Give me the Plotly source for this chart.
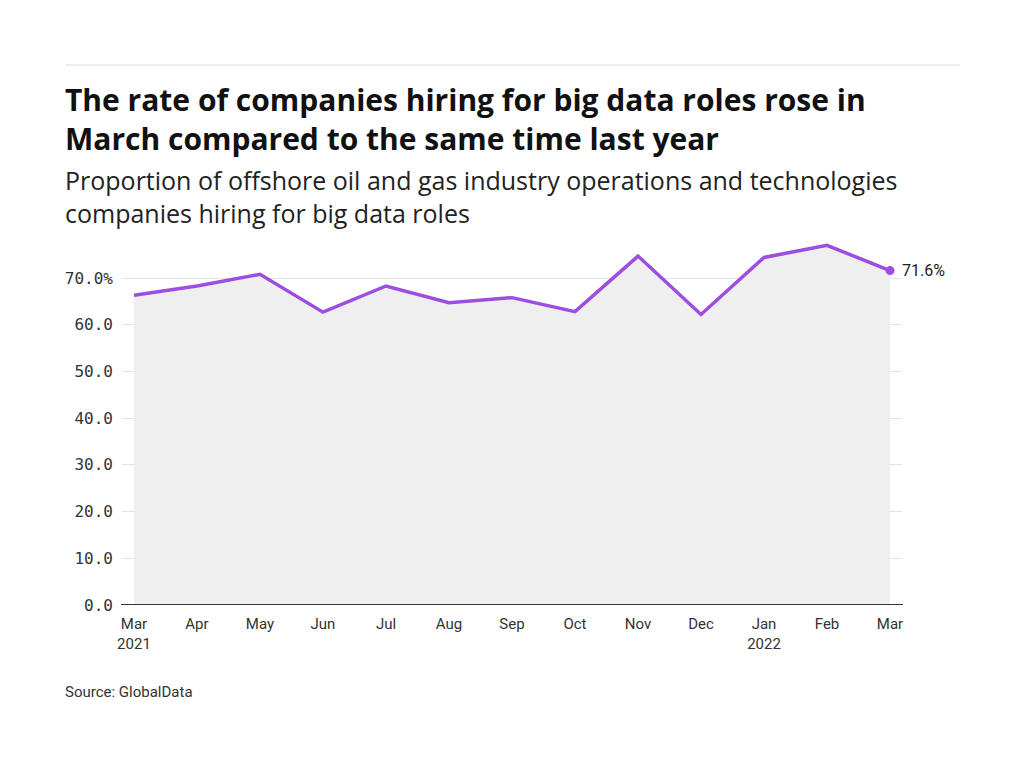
import plotly.graph_objects as go

months = ["Mar<br>2021", "Apr", "May", "Jun", "Jul", "Aug", "Sep", "Oct", "Nov", "Dec", "Jan<br>2022", "Feb", "Mar"]
values = [66.3, 68.3, 70.8, 62.7, 68.3, 64.7, 65.8, 62.8, 74.7, 62.2, 74.4, 77.0, 71.6]
ytick_vals = [0, 10, 20, 30, 40, 50, 60, 70]
ytick_text = ["0.0", "10.0", "20.0", "30.0", "40.0", "50.0", "60.0", "70.0%"]

OFF = 8  # page body margin
W, H = 1024 - OFF, 768 - OFF
L, R, T, B = 122 - OFF, 902 - OFF, 236 - OFF, 605 - OFF

def px(x):
    return (x - OFF - L) / (R - L)

def py(y):
    return (B - (y - OFF)) / (B - T)

xs = list(range(len(months)))
PURPLE = "#9d4ee0"

fig = go.Figure()
fig.add_trace(go.Scatter(
    x=xs, y=values, mode="lines", fill="tozeroy", fillcolor="#efefef",
    line=dict(color=PURPLE, width=3.5), hoverinfo="skip", showlegend=False))
fig.add_trace(go.Scatter(
    x=[xs[-1]], y=[values[-1]], mode="markers",
    marker=dict(color=PURPLE, size=9),
    hoverinfo="skip", showlegend=False, cliponaxis=False))

fig.update_layout(
    width=W, height=H,
    margin=dict(l=L, r=W - R, t=T, b=H - B, autoexpand=False),
    paper_bgcolor="white", plot_bgcolor="white",
    xaxis=dict(range=[-0.19, 12.19], tickvals=xs, ticktext=months,
               showgrid=False, zeroline=False, showline=False, ticks="",
               ticklabelstandoff=8,
               tickfont=dict(family="Roboto", size=15, color="#333")),
    yaxis=dict(range=[0, 79], tickvals=ytick_vals, ticktext=ytick_text,
               showgrid=True, gridcolor="#e2e2e2", gridwidth=1,
               zeroline=False, showline=False, ticks="", ticklabelstandoff=8,
               tickfont=dict(family="DejaVu Sans Mono", size=16, color="#333")),
    shapes=[
        dict(type="line", xref="paper", yref="paper", x0=px(65), x1=px(960), y0=py(65), y1=py(65),
             line=dict(color="#dddddd", width=1)),
        dict(type="line", xref="paper", yref="y", x0=px(121), x1=px(903), y0=0, y1=0,
             line=dict(color="#333333", width=2)),
    ],
    annotations=[
        dict(text=f"{values[-1]:.1f}%", x=xs[-1], y=values[-1], xref="x", yref="y",
             xanchor="left", yanchor="middle", xshift=10, showarrow=False,
             font=dict(family="Roboto", size=16, color="#222")),
        dict(text="The rate of companies hiring for big data roles rose in<br>March compared to the same time last year",
             xref="paper", yref="paper", x=px(63), y=py(77), xanchor="left", yanchor="top",
             align="left", showarrow=False,
             font=dict(family="Open Sans", size=30, color="#111", weight=700)),
        dict(text="Proportion of offshore oil and gas industry operations and technologies<br>companies hiring for big data roles",
             xref="paper", yref="paper", x=px(63), y=py(161), xanchor="left", yanchor="top",
             align="left", showarrow=False,
             font=dict(family="Open Sans", size=25, color="#222")),
        dict(text="Source: GlobalData",
             xref="paper", yref="paper", x=px(63), y=py(692), xanchor="left", yanchor="middle",
             align="left", showarrow=False,
             font=dict(family="Roboto", size=15, color="#333")),
    ],
)

fig.write_html("out.html")
